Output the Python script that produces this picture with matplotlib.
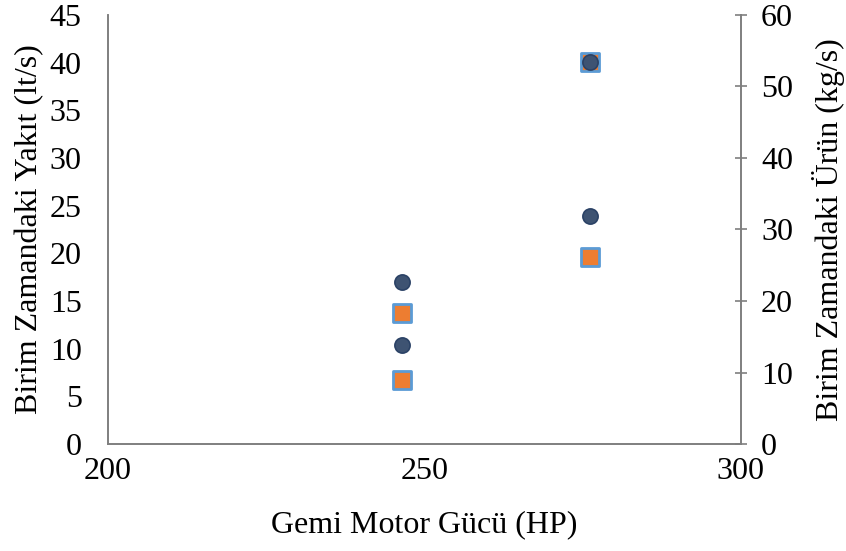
import matplotlib
matplotlib.use("Agg")
import matplotlib.pyplot as plt

# data
motor_hp_circle = [246.4, 246.4, 276.1, 276.1]
urun_kgs = [22.7, 13.9, 31.9, 53.4]

motor_hp_square = [246.4, 246.4, 276.1, 276.1]
yakit_lts = [13.7, 6.7, 19.6, 40.1]

x_ticks = [200, 250, 300]
left_ticks = [0, 5, 10, 15, 20, 25, 30, 35, 40, 45]
right_ticks = [0, 10, 20, 30, 40, 50, 60]

plt.rcParams["font.family"] = ["Liberation Serif", "DejaVu Serif"]
spine_col = "#7f7f7f"


def main():
    fig = plt.figure(figsize=(8.46, 5.51), dpi=100)
    ax = fig.add_axes([0.1277, 0.194, 0.748, 0.779])
    ax2 = ax.twinx()

    # left axis series (squares)
    ax.scatter(motor_hp_square, yakit_lts, marker="s", s=150,
               facecolor="#ED7D31", edgecolor="#5B9BD5", linewidth=2,
               zorder=3, clip_on=False)
    # right axis series (circles), drawn on top
    ax2.scatter(motor_hp_circle, urun_kgs, marker="o", s=120,
                facecolor="#3E5372", edgecolor="#2B4266", linewidth=1.2,
                zorder=4, clip_on=False)

    ax.set_xlim(200, 300)
    ax.set_ylim(0, 45)
    ax2.set_ylim(0, 60)
    ax.set_xticks(x_ticks)
    ax.set_yticks(left_ticks)
    ax2.set_yticks(right_ticks)

    for a in (ax, ax2):
        a.spines["top"].set_visible(False)
        for s in ("left", "right", "bottom"):
            a.spines[s].set_color(spine_col)
            a.spines[s].set_linewidth(1.2)

    ax.tick_params(axis="x", length=0, labelsize=23, pad=9)
    ax.tick_params(axis="y", length=0, labelsize=23, pad=19)
    ax2.tick_params(axis="y", direction="inout", length=9, width=1.2,
                    color=spine_col, labelsize=23, pad=10)

    ax.set_xlabel("Gemi Motor Gücü (HP)", fontsize=23, labelpad=18)
    ax.set_ylabel("Birim Zamandaki Yakıt (lt/s)", fontsize=23, labelpad=4)
    ax2.set_ylabel("Birim Zamandaki Ürün (kg/s)", fontsize=23, labelpad=14)

    fig.savefig("out.png", dpi=100)


if __name__ == "__main__":
    main()
